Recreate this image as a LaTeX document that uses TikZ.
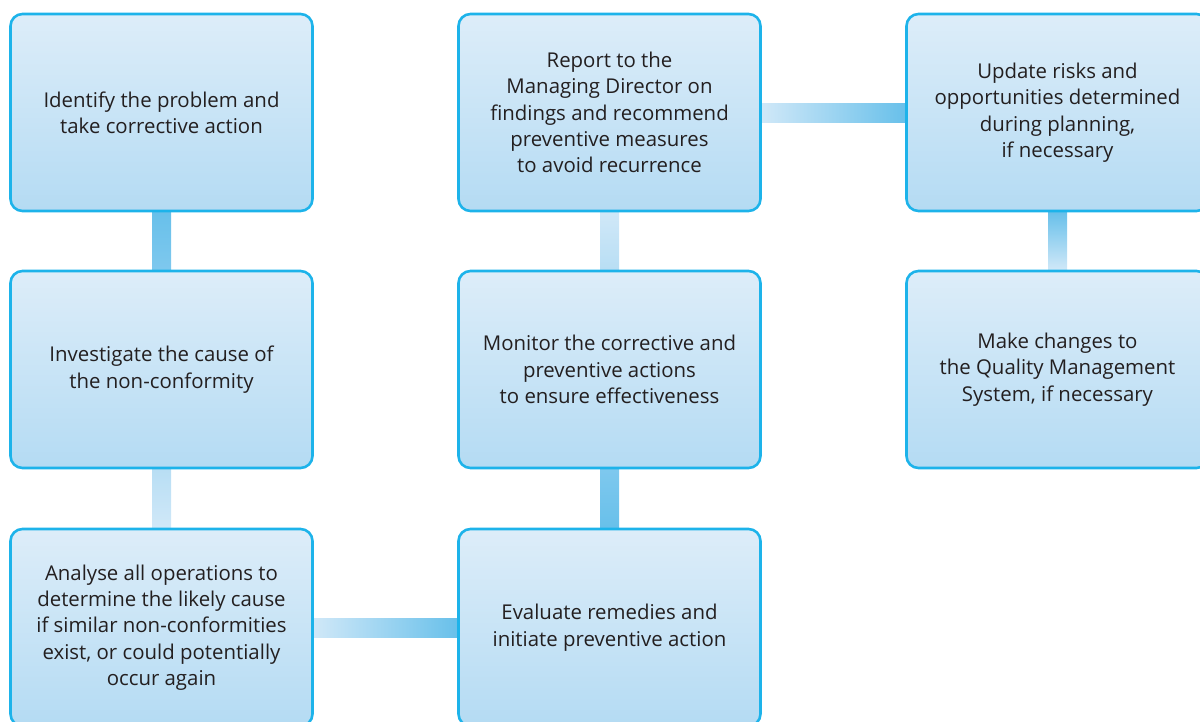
\documentclass[tikz,border=0pt]{standalone}
\usepackage{fontspec}
\setmainfont{Open Sans}
\usetikzlibrary{calc,backgrounds}

\definecolor{boxline}{HTML}{1DB3EA}
\definecolor{boxtop}{HTML}{DDEDF9}
\definecolor{boxbot}{HTML}{B4DBF3}
\definecolor{txt}{HTML}{231F20}
\definecolor{linkdark}{HTML}{68C0EA}
\definecolor{linkmid}{HTML}{7EC8EE}
\definecolor{linklight}{HTML}{D0E8F8}
\definecolor{linkpale}{HTML}{B8DEF4}

\tikzset{
  stepbox/.style={draw=boxline, line width=2.6pt, rounded corners=12pt,
    top color=boxtop, bottom color=boxbot,
    minimum width=302pt, minimum height=197pt, inner sep=0pt,
    align=center, text=txt,
    font=\fontsize{20.4}{26.4}\selectfont},
  vlink/.style 2 args={top color=#1, bottom color=#2, draw=none},
  hlink/.style 2 args={left color=#1, right color=#2, draw=none},
}

\begin{document}
\begin{tikzpicture}[x=1pt,y=-1pt]
  \useasboundingbox (0,0) rectangle (1200,721);
  \clip (0,0) rectangle (1200,721);

  % column 1
  \node[stepbox] (identify)    at (161.5,112.5) {Identify the problem and\\take corrective action};
  \node[stepbox] (investigate) at (161.5,369.5) {Investigate the cause of\\the non-conformity};
  \node[stepbox] (analyse)     at (161.5,627.5) {Analyse all operations to\\determine the likely cause\\if similar non-conformities\\exist, or could potentially\\occur again};
  % column 2
  \node[stepbox] (evaluate) at (609.5,627.5) {Evaluate remedies and\\initiate preventive action};
  \node[stepbox] (monitor)  at (609.5,369.5) {Monitor the corrective and\\preventive actions\\to ensure effectiveness};
  \node[stepbox] (report)   at (609.5,112.5) {Report to the\\Managing Director on\\findings and recommend\\preventive measures\\to avoid recurrence};
  % column 3
  \node[stepbox] (update)  at (1057.5,112.5) {Update risks and\\opportunities determined\\during planning,\\if necessary};
  \node[stepbox] (changes) at (1057.5,369.5) {Make changes to\\the Quality Management\\System, if necessary};

  % connecting bars, drawn behind the boxes
  \begin{scope}[on background layer]
    \path[vlink={linkdark}{linkmid}]
      ($(identify.south)+(-9.5,0)$) rectangle ($(investigate.north)+(9.5,0)$);
    \path[vlink={linkpale}{linklight}]
      ($(investigate.south)+(-9.5,0)$) rectangle ($(analyse.north)+(9.5,0)$);
    \path[hlink={linklight}{linkdark}]
      ($(analyse.east)+(0,-9.5)$) rectangle ($(evaluate.west)+(0,9.5)$);
    \path[vlink={linkmid}{linkdark}]
      ($(monitor.south)+(-9.5,0)$) rectangle ($(evaluate.north)+(9.5,0)$);
    \path[vlink={linklight}{linkpale}]
      ($(report.south)+(-9.5,0)$) rectangle ($(monitor.north)+(9.5,0)$);
    \path[hlink={linklight}{linkdark}]
      ($(report.east)+(0,-9.5)$) rectangle ($(update.west)+(0,9.5)$);
    \path[vlink={linkdark}{linklight}]
      ($(update.south)+(-9.5,0)$) rectangle ($(changes.north)+(9.5,0)$);
  \end{scope}
\end{tikzpicture}
\end{document}
